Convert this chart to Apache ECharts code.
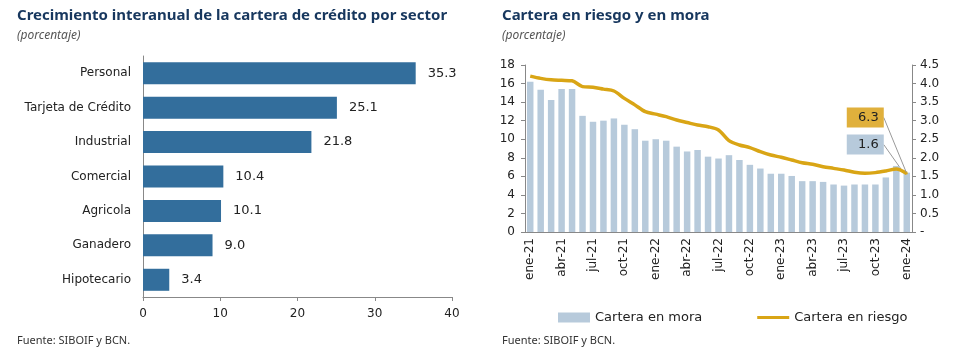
<!DOCTYPE html>
<html>
<head>
<meta charset="utf-8">
<script src="https://cdn.jsdelivr.net/npm/echarts@6/dist/echarts.min.js"></script>
<style>
  html, body { margin: 0; padding: 0; background: #fff; }
  #main { width: 963px; height: 354px; }
</style>
</head>
<body>
<div id="main"></div>
<script>
// datos: crecimiento por sector
var sectores = ['Personal', 'Tarjeta de Crédito', 'Industrial', 'Comercial', 'Agricola', 'Ganadero', 'Hipotecario'];
var crecimiento = [35.3, 25.1, 21.8, 10.4, 10.1, 9.0, 3.4];

// datos: cartera en riesgo y en mora (ene-21 a ene-24)
var meses = ['ene-21','feb-21','mar-21','abr-21','may-21','jun-21','jul-21','ago-21','sep-21','oct-21','nov-21','dic-21',
             'ene-22','feb-22','mar-22','abr-22','may-22','jun-22','jul-22','ago-22','sep-22','oct-22','nov-22','dic-22',
             'ene-23','feb-23','mar-23','abr-23','may-23','jun-23','jul-23','ago-23','sep-23','oct-23','nov-23','dic-23',
             'ene-24'];
var carteraMora = [4.05, 3.83, 3.56, 3.85, 3.85, 3.13, 2.97, 3.0, 3.06, 2.89, 2.77, 2.46,
                   2.5, 2.46, 2.3, 2.17, 2.21, 2.03, 1.98, 2.07, 1.94, 1.81, 1.71, 1.57,
                   1.57, 1.51, 1.37, 1.37, 1.35, 1.28, 1.25, 1.28, 1.28, 1.28, 1.47, 1.78,
                   1.6];
var carteraRiesgo = [16.8, 16.56, 16.4, 16.35, 16.3, 15.67, 15.6, 15.4, 15.2, 14.4, 13.7, 12.97,
                     12.7, 12.43, 12.07, 11.8, 11.53, 11.35, 11.0, 9.85, 9.38, 9.1, 8.66, 8.3,
                     8.05, 7.76, 7.47, 7.3, 7.04, 6.86, 6.68, 6.43, 6.32, 6.4, 6.58, 6.8,
                     6.3];

var myChart = echarts.init(document.getElementById('main'));

var txt = '#222';
var font = 'DejaVu Sans';
var ejeGris = '#888';

var ultimo = meses.length - 1;
var riesgoData = carteraRiesgo.map(function(v, i) {
    if (i !== ultimo) return v;
    return {
        value: v,
        symbol: 'circle', symbolSize: 2,
        label: {
            show: true, formatter: v.toFixed(1), position: 'top',
            backgroundColor: '#E0B03C', color: '#222', fontSize: 13, fontFamily: font,
            padding: [4, 5, 3, 4], width: 28, align: 'right'
        }
    };
});
var moraData = carteraMora.map(function(v, i) {
    if (i !== ultimo) return v;
    return {
        value: v,
        label: {
            show: true, formatter: v.toFixed(1), position: 'top',
            backgroundColor: '#B7CADB', color: '#222', fontSize: 13, fontFamily: font,
            padding: [4, 5, 3, 4], width: 28, align: 'right'
        }
    };
});

var option = {
    animation: false,
    textStyle: { fontFamily: font },
    title: [
        { text: 'Crecimiento interanual de la cartera de crédito por sector', left: 12, top: 3,
          textStyle: { fontSize: 15, fontWeight: 'bold', color: '#17375E', fontFamily: 'Noto Sans' } },
        { text: '(porcentaje)', left: 12, top: 25,
          textStyle: { fontSize: 12, fontStyle: 'italic', fontWeight: 'normal', color: '#555', fontFamily: 'Noto Sans' } },
        { text: 'Cartera en riesgo y en mora', left: 497, top: 3,
          textStyle: { fontSize: 15, fontWeight: 'bold', color: '#17375E', fontFamily: 'Noto Sans' } },
        { text: '(porcentaje)', left: 497, top: 25,
          textStyle: { fontSize: 12, fontStyle: 'italic', fontWeight: 'normal', color: '#555', fontFamily: 'Noto Sans' } },
        { text: 'Fuente: SIBOIF y BCN.', left: 12, top: 330,
          textStyle: { fontSize: 11, fontWeight: 'normal', color: '#333', fontFamily: 'Noto Sans' } },
        { text: 'Fuente: SIBOIF y BCN.', left: 497, top: 330,
          textStyle: { fontSize: 11, fontWeight: 'normal', color: '#333', fontFamily: 'Noto Sans' } }
    ],
    legend: {
        left: 553, top: 306,
        itemGap: 55, itemWidth: 32, itemHeight: 10,
        textStyle: { fontSize: 13, color: txt, fontFamily: font },
        data: [
            { name: 'Cartera en mora', icon: 'rect' },
            { name: 'Cartera en riesgo', icon: 'path://M0,0 L32,0 L32,3 L0,3 Z' }
        ]
    },
    grid: [
        { left: 143, top: 56, width: 309, height: 241 },
        { left: 525, top: 65, width: 387, height: 167 }
    ],
    xAxis: [
        {
            gridIndex: 0, type: 'value', min: 0, max: 40, interval: 10,
            splitLine: { show: false },
            axisLine: { show: true, lineStyle: { color: ejeGris } },
            axisTick: { show: true, length: 4, lineStyle: { color: ejeGris } },
            axisLabel: { color: txt, fontSize: 12, margin: 11 }
        },
        {
            gridIndex: 1, type: 'category', data: meses,
            axisLine: { lineStyle: { color: ejeGris } },
            axisTick: { interval: 2, length: 4, lineStyle: { color: ejeGris } },
            axisLabel: { interval: 2, rotate: 90, color: txt, fontSize: 12, margin: 6 }
        }
    ],
    yAxis: [
        {
            gridIndex: 0, type: 'category', data: sectores, inverse: true,
            axisLine: { lineStyle: { color: ejeGris } },
            axisTick: { length: 4, lineStyle: { color: ejeGris } },
            axisLabel: { color: txt, fontSize: 12, margin: 12 }
        },
        {
            gridIndex: 1, type: 'value', min: 0, max: 18, interval: 2,
            splitLine: { show: false },
            axisLine: { show: true, lineStyle: { color: ejeGris } },
            axisTick: { show: true, length: 4, lineStyle: { color: ejeGris } },
            axisLabel: { color: txt, fontSize: 12, margin: 10 }
        },
        {
            gridIndex: 1, type: 'value', min: 0, max: 4.5, interval: 0.5, position: 'right',
            splitLine: { show: false },
            axisLine: { show: true, lineStyle: { color: ejeGris } },
            axisTick: { show: true, length: 4, lineStyle: { color: ejeGris } },
            axisLabel: {
                color: txt, fontSize: 12, margin: 8,
                formatter: function(v) { return v === 0 ? '-' : v.toFixed(1); }
            }
        }
    ],
    series: [
        {
            name: 'Crecimiento', type: 'bar', xAxisIndex: 0, yAxisIndex: 0,
            data: crecimiento, barCategoryGap: '36%',
            itemStyle: { color: '#336E9C' },
            label: {
                show: true, position: 'right', distance: 12, color: txt, fontSize: 13,
                formatter: function(p) { return p.value.toFixed(1); }
            }
        },
        {
            name: 'Cartera en mora', type: 'bar', xAxisIndex: 1, yAxisIndex: 2,
            data: moraData, barCategoryGap: '38%',
            itemStyle: { color: '#B7CADB' },
            labelLayout: { dx: -23, dy: -13 },
            labelLine: { show: true, lineStyle: { color: '#999', width: 1 } }
        },
        {
            name: 'Cartera en riesgo', type: 'line', xAxisIndex: 1, yAxisIndex: 1,
            data: riesgoData, smooth: 0.3, symbol: 'none', showSymbol: true, z: 5,
            lineStyle: { color: '#D9A515', width: 3.5 },
            itemStyle: { color: '#D9A515' },
            labelLayout: { dx: -23, dy: -40 },
            labelLine: { show: true, lineStyle: { color: '#999', width: 1 } }
        }
    ]
};

myChart.setOption(option);
</script>
</body>
</html>
